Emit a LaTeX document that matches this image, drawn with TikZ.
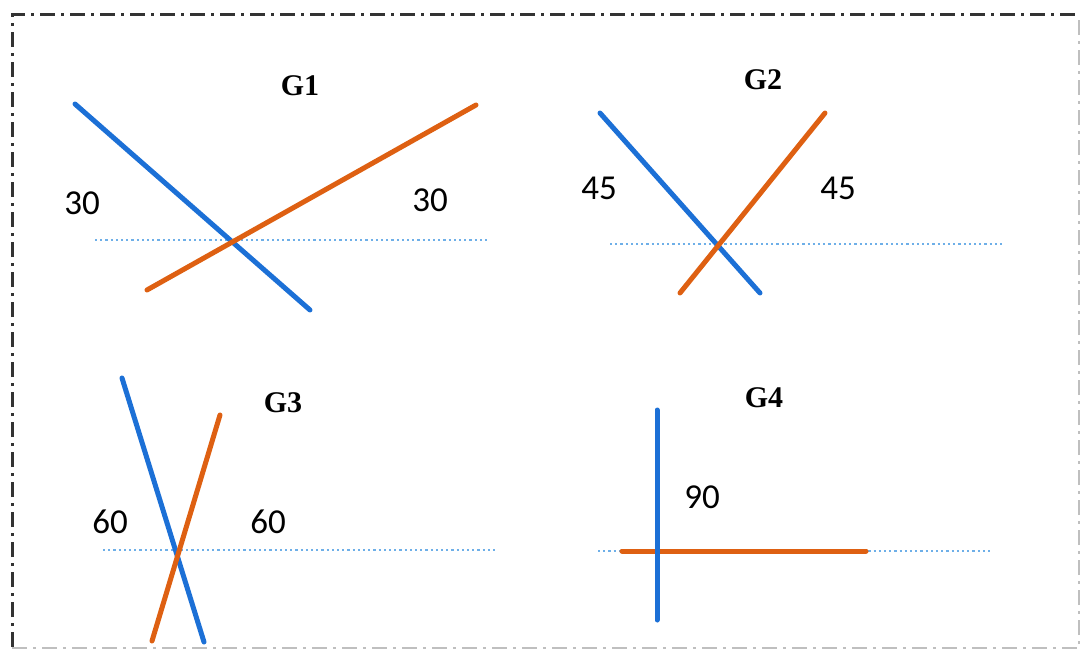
\documentclass[tikz,border=0pt]{standalone}
\usepackage{fontspec}
\setmainfont{Liberation Serif}
\newfontfamily\numfont{Carlito}
\definecolor{lblue}{RGB}{28,112,214}
\definecolor{lorange}{RGB}{222,96,18}
\definecolor{ldot}{RGB}{110,175,232}
\tikzset{
  bluel/.style={draw=lblue,line width=5pt,line cap=round},
  orangel/.style={draw=lorange,line width=5pt,line cap=round},
  refl/.style={draw=ldot,line width=2.2pt,dash pattern=on 2.2pt off 3pt},
  glabel/.style={font=\bfseries\fontsize{30}{34}\selectfont},
  angl/.style={font=\numfont\fontsize{35}{40}\selectfont},
  frame/.style={draw=black!80,line width=3pt,dash pattern=on 15pt off 6pt on 3pt off 6pt}
}
\begin{document}
\begin{tikzpicture}[x=1pt,y=-1pt]
\useasboundingbox (0,0) rectangle (1080,650);
\draw[frame] (12,647) -- (12,15) -- (1079,15);
\draw[draw=black!25,line width=1.5pt,dash pattern=on 15pt off 6pt on 3pt off 6pt] (12,648) -- (1079,648) -- (1079,15);
% G1
\node[glabel] (g1) at (300,86) {G1};
\draw[refl] (95,240) -- (488,240);
\draw[bluel] (75,104) -- (310,310);
\draw[orangel] (147,290) -- (476,105);
\node[angl] (a1) at (82,203) {30};
\node[angl] (a2) at (430,200) {30};
% G2
\node[glabel] (g2) at (763,80) {G2};
\draw[refl] (610,244) -- (1003,244);
\draw[bluel] (600,113) -- (760,293);
\draw[orangel] (680,293) -- (825,113);
\node[angl] (a3) at (599,188) {45};
\node[angl] (a4) at (838,188) {45};
% G3
\node[glabel] (g3) at (283,403) {G3};
\draw[refl] (103,550) -- (497,550);
\draw[bluel] (122,378) -- (204,642);
\draw[orangel] (220,415) -- (152,641);
\node[angl] (a5) at (110,522) {60};
\node[angl] (a6) at (268,522) {60};
% G4
\node[glabel] (g4) at (764,398) {G4};
\draw[refl] (598,551) -- (992,551);
\draw[orangel] (622,551) -- (866,551);
\draw[bluel] (657,410) -- (657,620);
\node[angl] (a7) at (702,497) {90};
\end{tikzpicture}
\end{document}
